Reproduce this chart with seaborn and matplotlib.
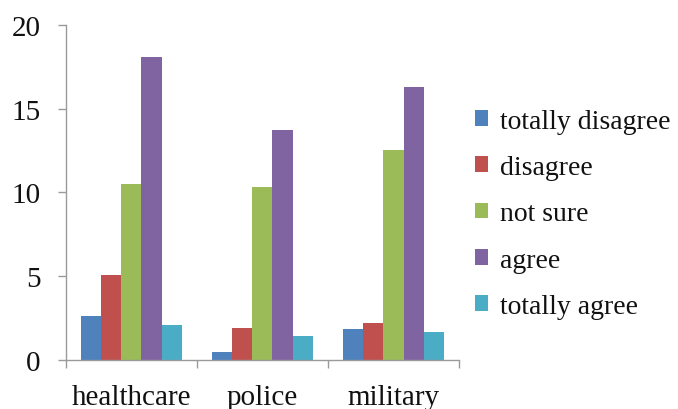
import matplotlib
matplotlib.use("Agg")
import matplotlib.pyplot as plt
import seaborn as sns
import pandas as pd

# Survey responses per institution
categories = ["healthcare", "police", "military"]
responses = ["totally disagree", "disagree", "not sure", "agree", "totally agree"]
totally_disagree = [2.6, 0.46, 1.87]
disagree = [5.05, 1.89, 2.19]
not_sure = [10.53, 10.32, 12.56]
agree = [18.1, 13.73, 16.32]
totally_agree = [2.07, 1.43, 1.65]
colors = ["#4F81BD", "#C0504D", "#9BBB59", "#8064A2", "#4BACC6"]

series = [totally_disagree, disagree, not_sure, agree, totally_agree]
rows = []
for resp, vals in zip(responses, series):
    for cat, v in zip(categories, vals):
        rows.append({"institution": cat, "response": resp, "value": v})
df = pd.DataFrame(rows)

sns.set_theme(style="white")
plt.rcParams["font.family"] = ["Liberation Serif", "DejaVu Serif"]

fig = plt.figure(figsize=(6.78, 4.10), dpi=100)
ax = fig.add_axes([0.097, 0.1195, 0.58, 0.8175])

sns.barplot(data=df, x="institution", y="value", hue="response",
            order=categories, hue_order=responses, palette=colors,
            width=0.77, saturation=1, linewidth=0, edgecolor="none",
            ax=ax, legend=True)

ax.set_ylim(0, 20)
ax.set_xlim(-0.5, 2.5)
ax.set_yticks([0, 5, 10, 15, 20])
ax.set_xlabel("")
ax.set_ylabel("")

spine_c = "#9A9A9A"
for s in ["top", "right"]:
    ax.spines[s].set_visible(False)
for s in ["left", "bottom"]:
    ax.spines[s].set_color(spine_c)
    ax.spines[s].set_linewidth(1.0)

ax.tick_params(axis="y", which="major", length=6, width=1.0, color=spine_c,
               labelsize=21, pad=12, left=True, direction="out")
ax.tick_params(axis="x", which="major", length=0, labelsize=21, pad=17)
ax.set_xticks([-0.5, 0.5, 1.5, 2.5], minor=True)
ax.tick_params(axis="x", which="minor", length=6, width=1.0, color=spine_c,
               bottom=True, direction="out")
for lbl in ax.get_xticklabels() + ax.get_yticklabels():
    lbl.set_color("#111111")

handles, labels = ax.get_legend_handles_labels()
ax.get_legend().remove()
leg = fig.legend(handles, labels, loc="center left",
                 bbox_to_anchor=(0.700, 0.476), frameon=False,
                 fontsize=20, handlelength=0.5, handleheight=0.5,
                 handletextpad=0.4, labelspacing=0.77,
                 borderpad=0, borderaxespad=0)
for t in leg.get_texts():
    t.set_color("#111111")

fig.savefig("out.png", dpi=100)
